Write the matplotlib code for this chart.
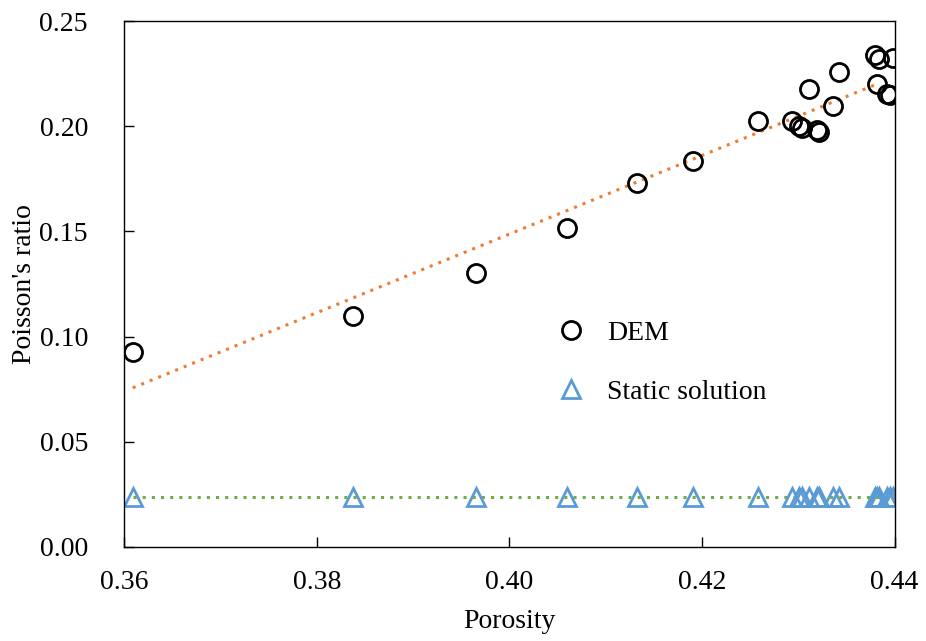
import numpy as np
import matplotlib.pyplot as plt

plt.rcParams['font.family'] = ['Liberation Serif', 'DejaVu Serif']

# porosity and Poisson's ratio from the DEM runs
porosity = [0.3609, 0.3838, 0.3965, 0.4060, 0.4133, 0.4191, 0.4258, 0.4294,
            0.4301, 0.4304, 0.4311, 0.4320, 0.4322, 0.4336, 0.4342, 0.4380,
            0.4384, 0.4398, 0.4382, 0.4392, 0.4395]
nu_dem = [0.0927, 0.1098, 0.1300, 0.1516, 0.1730, 0.1836, 0.2025, 0.2025,
          0.2000, 0.1990, 0.2175, 0.1980, 0.1972, 0.2095, 0.2260, 0.2340,
          0.2320, 0.2325, 0.2200, 0.2155, 0.2150]
# static solution, same porosities
nu_static = [0.0235] * len(porosity)

xticks = [0.36, 0.38, 0.40, 0.42, 0.44]
yticks = [0.00, 0.05, 0.10, 0.15, 0.20, 0.25]

fs = 20

fig = plt.figure(figsize=(9.26, 6.41), dpi=100)
ax = fig.add_axes([0.134, 0.147, 0.832, 0.820])

x = np.array(porosity)
y = np.array(nu_dem)
k, b = np.polyfit(x, y, 1)
xs = np.array([x.min(), 0.438])
ax.plot(xs, k * xs + b, ls=(0, (1, 2.0)), color='#ED7D31', lw=2.2)
ax.plot([x.min(), x.max()], [nu_static[0]] * 2, ls=(0, (1, 2.0)),
        color='#70AD47', lw=2.2)

ax.plot(porosity, nu_dem, 'o', mfc='none', mec='black', ms=13, mew=2,
        ls='none', label='DEM')
ax.plot(porosity, nu_static, '^', mfc='none', mec='#5B9BD5', ms=13, mew=2,
        ls='none', label='Static solution')

ax.set_xlim(0.36, 0.44)
ax.set_ylim(0, 0.25)
ax.set_xticks(xticks)
ax.set_yticks(yticks)
ax.set_xticklabels(['%.2f' % t for t in xticks])
ax.set_yticklabels(['%.2f' % t for t in yticks])
ax.tick_params(direction='in', length=7, width=1, labelsize=fs)
ax.tick_params(axis='y', pad=26)
ax.tick_params(axis='x', pad=17)
for s in ax.spines.values():
    s.set_linewidth(1)

ax.set_xlabel('Porosity', fontsize=fs, labelpad=10)
ax.set_ylabel("Poisson's ratio", fontsize=fs, labelpad=2)

ax.legend(loc='upper left', bbox_to_anchor=(0.529, 0.452), frameon=False,
          fontsize=fs, labelspacing=1.22, handletextpad=0.33,
          borderaxespad=0)

fig.savefig('out.png', dpi=100)
